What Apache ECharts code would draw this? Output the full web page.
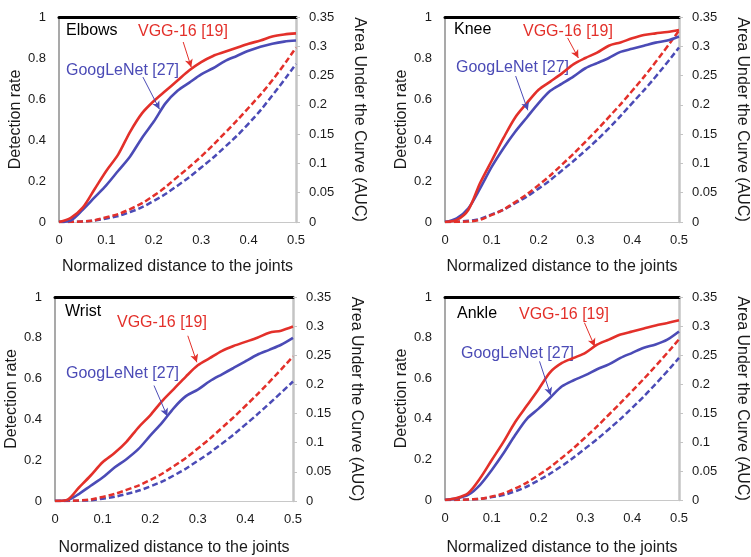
<!DOCTYPE html>
<html>
<head>
<meta charset="utf-8">
<script src="https://cdn.jsdelivr.net/npm/echarts@6/dist/echarts.min.js"></script>
<style>
  html, body { margin: 0; padding: 0; background: #fff; }
  #main { width: 751px; height: 557px; }
</style>
</head>
<body>
<div id="main"></div>
<script>
// x positions (normalized distance)
const dist = [0, 0.025, 0.05, 0.075, 0.1, 0.125, 0.15, 0.175, 0.2, 0.225, 0.25,
  0.275, 0.3, 0.325, 0.35, 0.375, 0.4, 0.425, 0.45, 0.475, 0.5];
const distAuc = [0, 0.05, 0.1, 0.15, 0.2, 0.25, 0.3, 0.35, 0.4, 0.45, 0.5];

// detection rate (left axis) and AUC (right axis)
const elbowsVgg = [0, 0.02, 0.07, 0.16, 0.25, 0.33, 0.44, 0.53, 0.59, 0.64, 0.69, 0.74, 0.78, 0.81, 0.83, 0.85, 0.87, 0.885, 0.905, 0.915, 0.92];
const elbowsGoog = [0, 0.008, 0.06, 0.12, 0.18, 0.25, 0.32, 0.41, 0.49, 0.58, 0.64, 0.68, 0.72, 0.75, 0.785, 0.81, 0.835, 0.855, 0.87, 0.88, 0.885];
const elbowsVggAuc = [0, 0.001, 0.008, 0.022, 0.045, 0.077, 0.112, 0.152, 0.195, 0.242, 0.298];
const elbowsGoogAuc = [0, 0.001, 0.006, 0.017, 0.036, 0.062, 0.093, 0.128, 0.168, 0.216, 0.27];

const kneeVgg = [0, 0.01, 0.06, 0.19, 0.3, 0.41, 0.51, 0.58, 0.645, 0.685, 0.725, 0.77, 0.8, 0.826, 0.86, 0.876, 0.896, 0.912, 0.92, 0.927, 0.937];
const kneeGoog = [0, 0.018, 0.067, 0.164, 0.27, 0.36, 0.44, 0.51, 0.58, 0.64, 0.675, 0.71, 0.75, 0.775, 0.8, 0.83, 0.845, 0.86, 0.875, 0.885, 0.905];
const kneeVggAuc = [0, 0.001, 0.012, 0.034, 0.063, 0.098, 0.137, 0.179, 0.224, 0.273, 0.327];
const kneeGoogAuc = [0, 0.002, 0.013, 0.032, 0.057, 0.088, 0.122, 0.16, 0.203, 0.248, 0.298];

const wristVgg = [0, 0.005, 0.065, 0.125, 0.19, 0.235, 0.29, 0.36, 0.42, 0.49, 0.55, 0.61, 0.665, 0.7, 0.735, 0.76, 0.78, 0.8, 0.825, 0.835, 0.855];
const wristGoog = [0, 0.003, 0.034, 0.075, 0.115, 0.164, 0.205, 0.254, 0.32, 0.384, 0.457, 0.514, 0.546, 0.587, 0.62, 0.652, 0.685, 0.717, 0.741, 0.766, 0.8];
const wristVggAuc = [0, 0.001, 0.007, 0.019, 0.036, 0.06, 0.09, 0.125, 0.163, 0.204, 0.248];
const wristGoogAuc = [0, 0.0005, 0.004, 0.012, 0.025, 0.044, 0.069, 0.098, 0.131, 0.167, 0.205];

const ankleVgg = [0, 0.01, 0.035, 0.107, 0.197, 0.286, 0.384, 0.465, 0.546, 0.63, 0.675, 0.7, 0.725, 0.765, 0.79, 0.815, 0.83, 0.845, 0.86, 0.872, 0.885];
const ankleGoog = [0, 0.008, 0.026, 0.075, 0.148, 0.23, 0.32, 0.4, 0.45, 0.505, 0.56, 0.59, 0.615, 0.644, 0.668, 0.7, 0.725, 0.75, 0.766, 0.79, 0.83];
const ankleVggAuc = [0, 0.001, 0.006, 0.02, 0.043, 0.073, 0.108, 0.147, 0.188, 0.231, 0.277];
const ankleGoogAuc = [0, 0.001, 0.005, 0.015, 0.034, 0.059, 0.089, 0.122, 0.159, 0.2, 0.245];

const RED = '#e3302a';
const BLUE = '#4b4bb6';
const FONT = '"Liberation Sans", Arial, sans-serif';
const TXT = '#1a1a1a';

// layout of the four panels
const panels = [
  { name: 'Elbows', grid: { left: 59, top: 17, width: 237, height: 205 }, xGap: 37,
    vgg: elbowsVgg, goog: elbowsGoog, vggAuc: elbowsVggAuc, googAuc: elbowsGoogAuc,
    namePos: [66, 31], vggPos: [138, 32], googPos: [66, 71],
    vggArrow: [[0.262, 0.878], [0.279, 0.755]], googArrow: [[0.177, 0.707], [0.212, 0.55]] },
  { name: 'Knee', grid: { left: 445, top: 17, width: 242, height: 205 }, xGap: 37,
    vgg: kneeVgg, goog: kneeGoog, vggAuc: kneeVggAuc, googAuc: kneeGoogAuc,
    namePos: [454, 30], vggPos: [523, 32], googPos: [456, 68],
    vggArrow: [[0.262, 0.898], [0.285, 0.8]], googArrow: [[0.151, 0.712], [0.177, 0.545]] },
  { name: 'Wrist', grid: { left: 55, top: 297, width: 238, height: 205 }, xGap: 39,
    vgg: wristVgg, goog: wristGoog, vggAuc: wristVggAuc, googAuc: wristGoogAuc,
    namePos: [65, 312], vggPos: [117, 323], googPos: [66, 374],
    vggArrow: [[0.279, 0.81], [0.298, 0.68]], googArrow: [[0.208, 0.566], [0.236, 0.415]] },
  { name: 'Ankle', grid: { left: 445, top: 297, width: 240, height: 205 }, xGap: 40,
    vgg: ankleVgg, goog: ankleGoog, vggAuc: ankleVggAuc, googAuc: ankleGoogAuc,
    namePos: [457, 314], vggPos: [519, 315], googPos: [461, 354],
    vggArrow: [[0.298, 0.873], [0.32, 0.756]], googArrow: [[0.202, 0.683], [0.226, 0.515]] }
];

const grid = [], xAxis = [], yAxis = [], series = [], graphic = [];

function arrow(color, pts) {
  return {
    silent: true,
    animation: false,
    symbol: ['none', 'arrow'],
    symbolSize: [6, 8],
    label: { show: false },
    lineStyle: { color: color, width: 1, type: 'solid' },
    data: [[{ coord: pts[0] }, { coord: pts[1] }]]
  };
}

panels.forEach((p, i) => {
  grid.push(p.grid);
  // bottom axis
  xAxis.push({
    gridIndex: i, type: 'value', min: 0, max: 0.5, interval: 0.1,
    axisLine: { show: true, onZero: false, lineStyle: { color: '#c8c8c8', width: 1 } },
    axisTick: { show: false }, splitLine: { show: false },
    axisLabel: { color: TXT, fontSize: 13, fontFamily: FONT, margin: 12 },
    name: 'Normalized distance to the joints', nameLocation: 'middle', nameGap: p.xGap,
    nameTextStyle: { color: TXT, fontSize: 16, fontFamily: FONT }
  });
  // thick black top border
  xAxis.push({
    gridIndex: i, type: 'value', position: 'top', min: 0, max: 0.5,
    axisLine: { show: true, onZero: false, lineStyle: { color: '#000', width: 3 } },
    axisTick: { show: false }, axisLabel: { show: false }, splitLine: { show: false }
  });
  yAxis.push({
    gridIndex: i, type: 'value', min: 0, max: 1, interval: 0.2,
    axisLine: { show: true, onZero: false, lineStyle: { color: '#8c8c8c', width: 1.5 } },
    axisTick: { show: false }, splitLine: { show: false },
    axisLabel: { color: TXT, fontSize: 13, fontFamily: FONT, margin: 13 },
    name: 'Detection rate', nameLocation: 'middle', nameGap: 30,
    nameTextStyle: { color: TXT, fontSize: 16, fontFamily: FONT }
  });
  yAxis.push({
    gridIndex: i, type: 'value', position: 'right', min: 0, max: 0.35, interval: 0.05,
    axisLine: { show: true, onZero: false, lineStyle: { color: '#c4c4c4', width: 2.5 } },
    axisTick: { show: true, length: 4, lineStyle: { color: '#c4c4c4', width: 1 } },
    splitLine: { show: false },
    axisLabel: { color: TXT, fontSize: 13, fontFamily: FONT, margin: 13 },
    name: 'Area Under the Curve (AUC)', nameLocation: 'middle', nameGap: 55, nameRotate: -90,
    nameTextStyle: { color: TXT, fontSize: 16, fontFamily: FONT }
  });

  const xi = i * 2, yl = i * 2, yr = i * 2 + 1;
  series.push({
    type: 'line', xAxisIndex: xi, yAxisIndex: yr, showSymbol: false, smooth: true,
    data: distAuc.map((x, k) => [x, p.googAuc[k]]),
    lineStyle: { color: BLUE, width: 2.5, type: [6, 3] }, itemStyle: { color: BLUE }
  });
  series.push({
    type: 'line', xAxisIndex: xi, yAxisIndex: yr, showSymbol: false, smooth: true,
    data: distAuc.map((x, k) => [x, p.vggAuc[k]]),
    lineStyle: { color: RED, width: 2.5, type: [6, 3] }, itemStyle: { color: RED }
  });
  series.push({
    type: 'line', xAxisIndex: xi, yAxisIndex: yl, showSymbol: false, smooth: 0.3,
    data: dist.map((x, k) => [x, p.goog[k]]),
    lineStyle: { color: BLUE, width: 2.6 }, itemStyle: { color: BLUE },
    markLine: arrow(BLUE, p.googArrow)
  });
  series.push({
    type: 'line', xAxisIndex: xi, yAxisIndex: yl, showSymbol: false, smooth: 0.3,
    data: dist.map((x, k) => [x, p.vgg[k]]),
    lineStyle: { color: RED, width: 2.6 }, itemStyle: { color: RED },
    markLine: arrow(RED, p.vggArrow)
  });

  graphic.push(
    { type: 'text', x: p.namePos[0], y: p.namePos[1],
      style: { text: p.name, fill: '#000', fontSize: 16, fontFamily: FONT, verticalAlign: 'middle' } },
    { type: 'text', x: p.vggPos[0], y: p.vggPos[1],
      style: { text: 'VGG-16 [19]', fill: RED, fontSize: 16, fontFamily: FONT, verticalAlign: 'middle' } },
    { type: 'text', x: p.googPos[0], y: p.googPos[1],
      style: { text: 'GoogLeNet [27]', fill: BLUE, fontSize: 16, fontFamily: FONT, verticalAlign: 'middle' } }
  );
});

const chart = echarts.init(document.getElementById('main'), null, { renderer: 'canvas' });
chart.setOption({
  animation: false,
  backgroundColor: '#fff',
  grid: grid,
  xAxis: xAxis,
  yAxis: yAxis,
  series: series,
  graphic: graphic
});
</script>
</body>
</html>
